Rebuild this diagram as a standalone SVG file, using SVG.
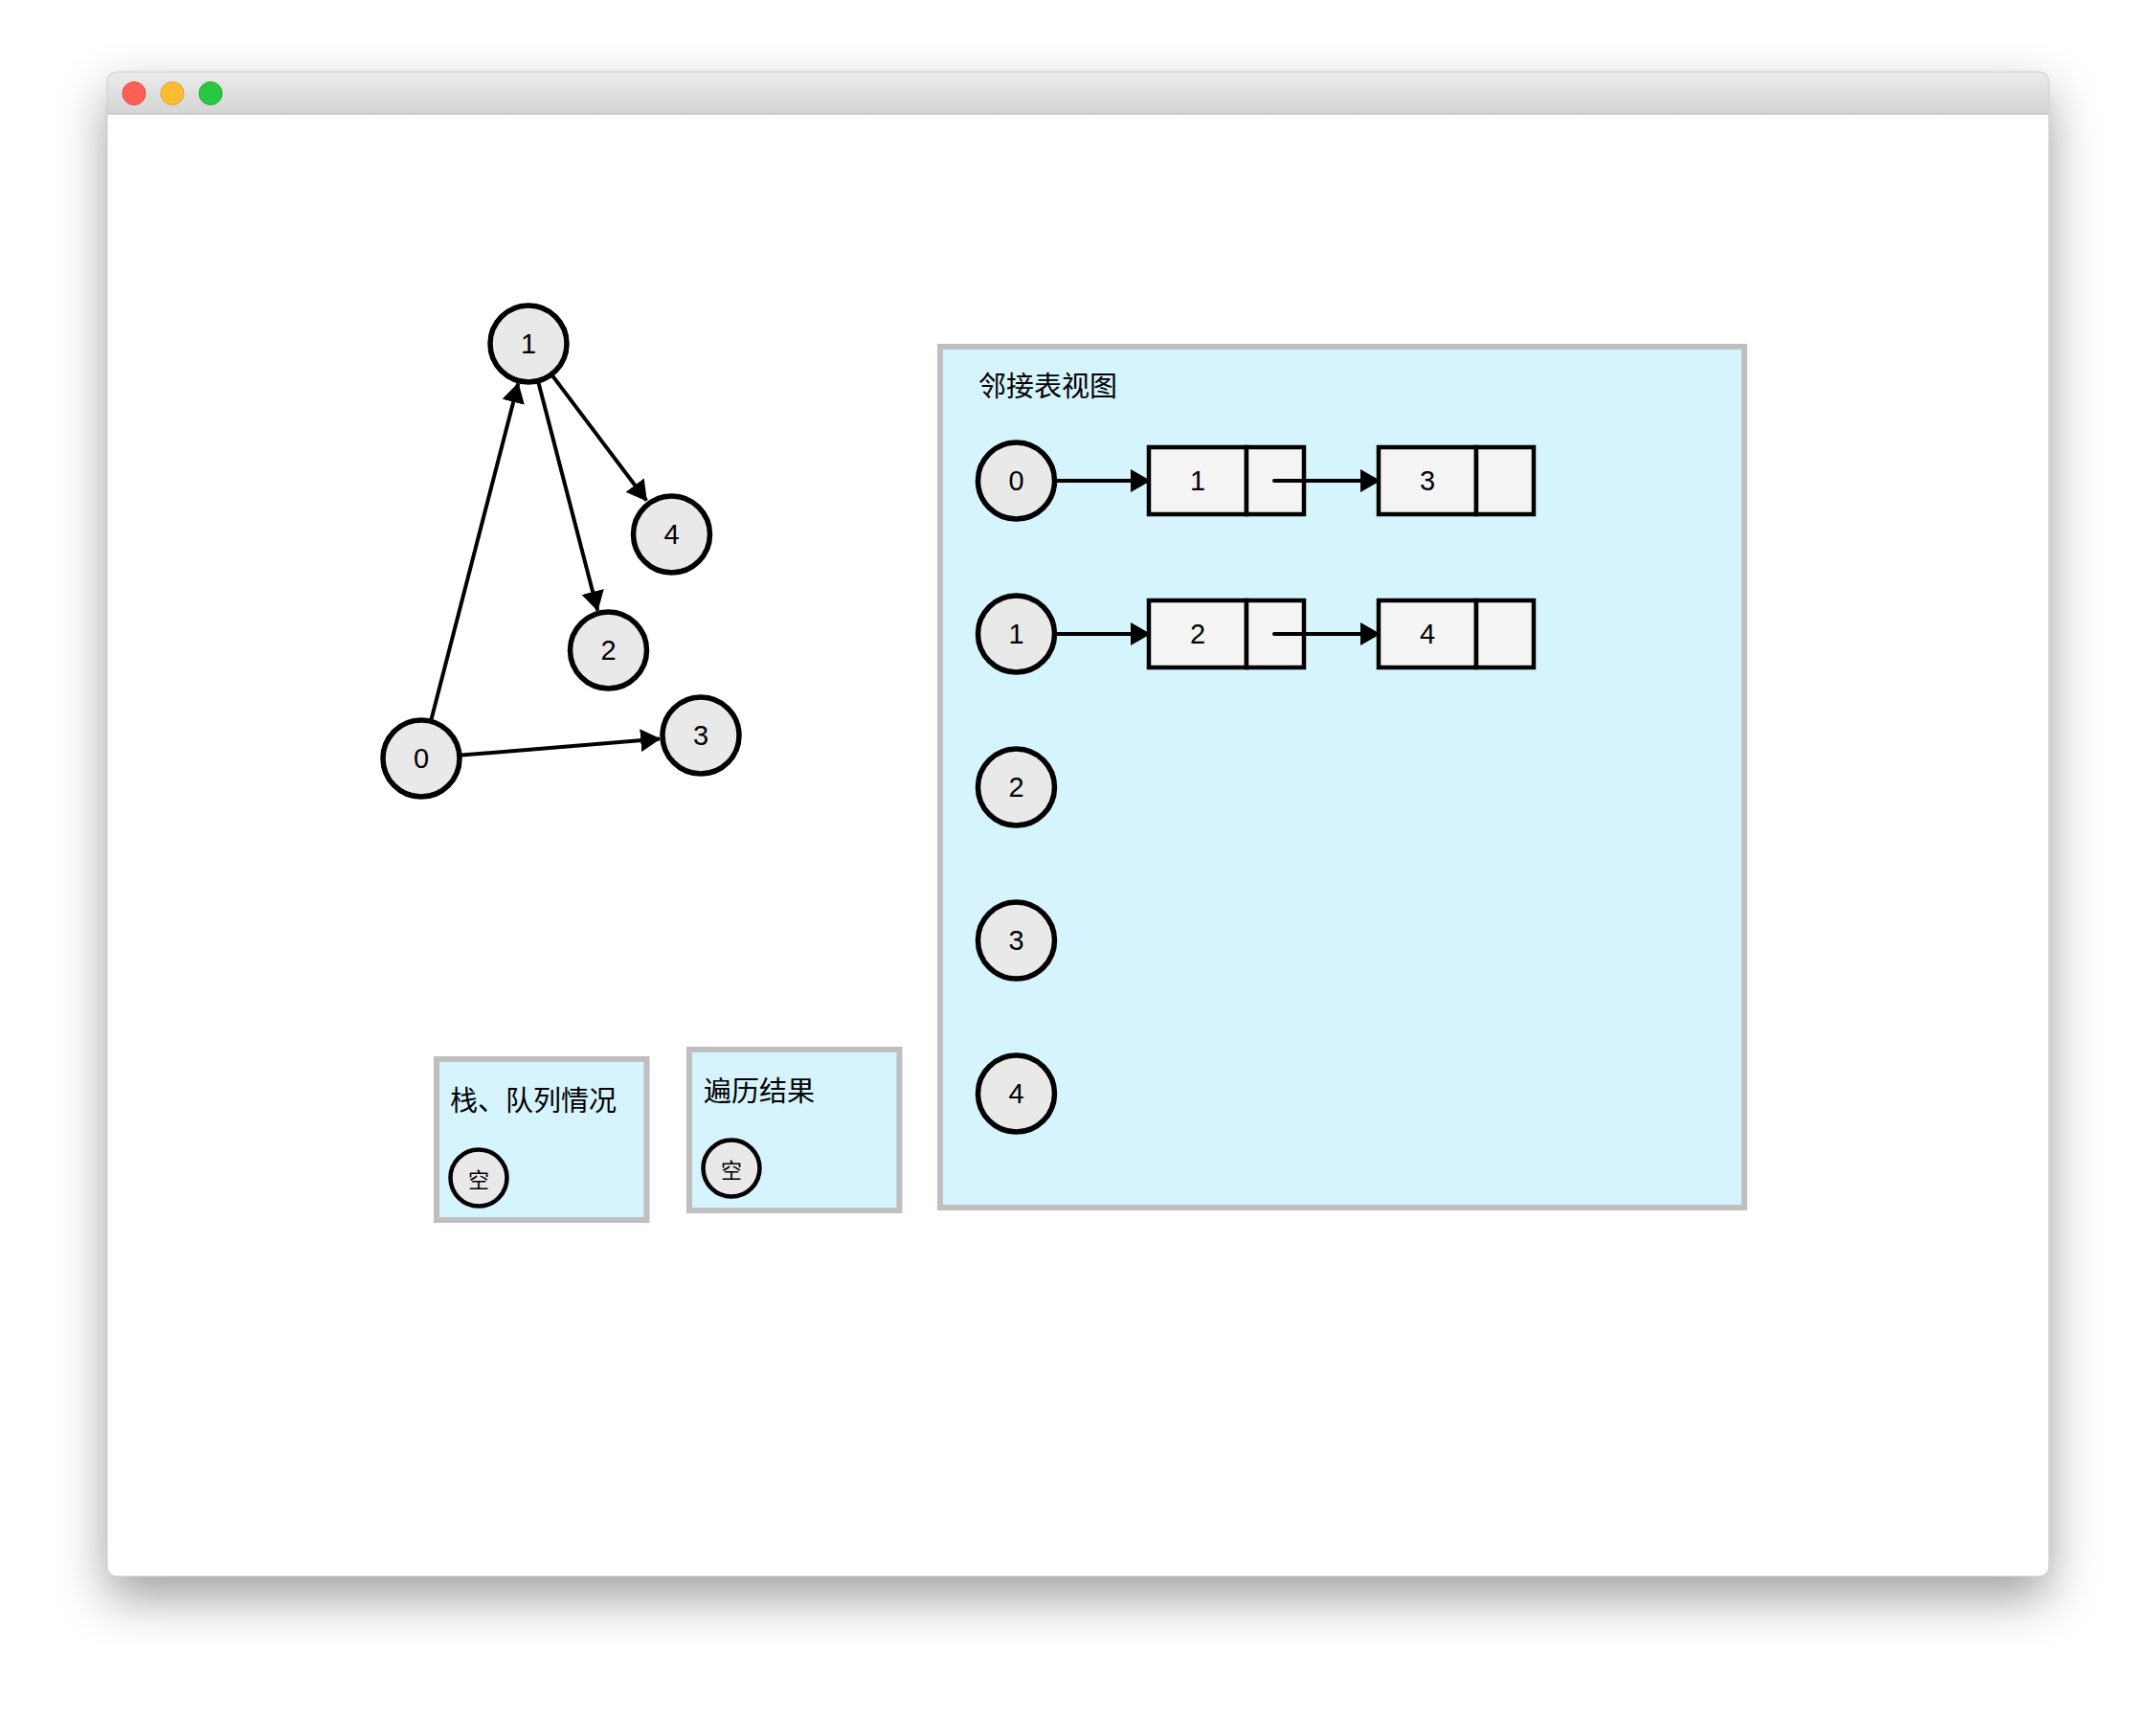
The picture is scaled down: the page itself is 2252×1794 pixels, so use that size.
<svg xmlns="http://www.w3.org/2000/svg" width="2252" height="1794" viewBox="0 0 2252 1794">
<defs>
<linearGradient id="tb" x1="0" y1="0" x2="0" y2="1">
<stop offset="0" stop-color="#ebebeb"/>
<stop offset="1" stop-color="#d4d4d4"/>
</linearGradient>
<filter id="sh" x="-10%" y="-10%" width="120%" height="125%">
<feDropShadow dx="0" dy="22" stdDeviation="26" flood-color="#000" flood-opacity="0.38"/>
</filter>
<marker id="arr" markerUnits="userSpaceOnUse" markerWidth="22" markerHeight="24" refX="20" refY="12" orient="auto">
<path d="M0,0 L21,12 L0,24 z" fill="#000"/>
</marker>
</defs>
<style>
.node circle{fill:#e9e9e9;stroke:#000;stroke-width:5.5}
.num{font-family:"Liberation Sans",Arial,sans-serif;font-size:29px;fill:#000;text-anchor:middle;dominant-baseline:central}
.cjk{font-family:"Noto Sans CJK SC","Liberation Sans",sans-serif;fill:#000}
.panel{fill:#d6f4fd;stroke:#bfbfbf;stroke-width:6}
.cell{fill:#f4f4f4;stroke:#000;stroke-width:4.5}
.edge{stroke:#000;stroke-width:4;fill:none;marker-end:url(#arr)}
.ptr{stroke:#000;stroke-width:4;fill:none;stroke-linecap:round}
</style>
<rect width="2252" height="1794" fill="#fff"/>
<g id="window">
<rect x="112" y="75" width="2028" height="1571" rx="10" fill="#fff" filter="url(#sh)"/>
<path d="M112,119 L112,85 Q112,75 122,75 L2130,75 Q2140,75 2140,85 L2140,119 Z" fill="url(#tb)"/>
<line x1="112" y1="119" x2="2140" y2="119" stroke="#c4c4c4" stroke-width="1.5"/>
<rect x="112" y="75" width="2028" height="1571" rx="10" fill="none" stroke="#cfcfcf" stroke-width="1"/>
<circle cx="140" cy="97.5" r="12" fill="#fe5f57" stroke="#e0443e" stroke-width="1"/>
<circle cx="180" cy="97.5" r="12" fill="#febc2e" stroke="#dea123" stroke-width="1"/>
<circle cx="220" cy="97.5" r="12" fill="#28c840" stroke="#1aab29" stroke-width="1"/>
</g>
<g id="panel-adj">
<rect class="panel" x="982" y="362" width="840" height="899"/>
<text class="cjk" x="1022" y="414" font-size="29">邻接表视图</text>
</g>
<g id="panel-stack">
<rect class="panel" x="456" y="1106" width="219.5" height="168"/>
<text class="cjk" x="470" y="1160" font-size="29">栈、队列情况</text>
</g>
<g id="panel-result">
<rect class="panel" x="720" y="1096" width="219.5" height="168"/>
<text class="cjk" x="735" y="1150" font-size="29">遍历结果</text>
</g>
<g id="g0" class="node"><circle cx="440" cy="792" r="40"/><text class="num" x="440" y="792">0</text></g>
<g id="g1" class="node"><circle cx="552" cy="359" r="40"/><text class="num" x="552" y="359">1</text></g>
<g id="g2" class="node"><circle cx="635.5" cy="679" r="40"/><text class="num" x="635.5" y="679">2</text></g>
<g id="g3" class="node"><circle cx="732" cy="768" r="40"/><text class="num" x="732" y="768">3</text></g>
<g id="g4" class="node"><circle cx="701.5" cy="558" r="40"/><text class="num" x="701.5" y="558">4</text></g>
<g id="l0" class="node"><circle cx="1061.5" cy="502" r="40"/><text class="num" x="1061.5" y="502">0</text></g>
<g id="l1" class="node"><circle cx="1061.5" cy="662" r="40"/><text class="num" x="1061.5" y="662">1</text></g>
<g id="l2" class="node"><circle cx="1061.5" cy="822" r="40"/><text class="num" x="1061.5" y="822">2</text></g>
<g id="l3" class="node"><circle cx="1061.5" cy="982" r="40"/><text class="num" x="1061.5" y="982">3</text></g>
<g id="l4" class="node"><circle cx="1061.5" cy="1142" r="40"/><text class="num" x="1061.5" y="1142">4</text></g>
<g id="c01">
<rect class="cell" x="1200" y="467" width="102" height="70"/>
<rect class="cell" x="1302" y="467" width="60" height="70"/>
<text class="num" x="1251" y="502">1</text>
</g>
<g id="c03">
<rect class="cell" x="1440" y="467" width="102" height="70"/>
<rect class="cell" x="1542" y="467" width="60" height="70"/>
<text class="num" x="1491" y="502">3</text>
</g>
<g id="c12">
<rect class="cell" x="1200" y="627" width="102" height="70"/>
<rect class="cell" x="1302" y="627" width="60" height="70"/>
<text class="num" x="1251" y="662">2</text>
</g>
<g id="c14">
<rect class="cell" x="1440" y="627" width="102" height="70"/>
<rect class="cell" x="1542" y="627" width="60" height="70"/>
<text class="num" x="1491" y="662">4</text>
</g>
<g id="stack-empty" class="node"><circle cx="500" cy="1230" r="29.5" style="stroke-width:4.5"/><text class="cjk" x="500" y="1230" font-size="22" text-anchor="middle" dominant-baseline="central">空</text></g>
<g id="result-empty" class="node"><circle cx="764" cy="1220" r="29.5" style="stroke-width:4.5"/><text class="cjk" x="764" y="1220" font-size="22" text-anchor="middle" dominant-baseline="central">空</text></g>
<g id="connectors">
<line class="edge" x1="450.5" y1="751.3" x2="541.2" y2="400.4"/>
<line class="edge" x1="562.5" y1="399.7" x2="624.2" y2="637.4"/>
<line class="edge" x1="577.3" y1="392.6" x2="675.2" y2="522.6"/>
<line class="edge" x1="481.9" y1="788.6" x2="689.1" y2="771.5"/>
<line class="edge" x1="1104" y1="502" x2="1201" y2="502"/>
<line class="ptr" x1="1331" y1="502" x2="1420" y2="502"/>
<line class="edge" x1="1410" y1="502" x2="1441" y2="502"/>
<line class="edge" x1="1104" y1="662" x2="1201" y2="662"/>
<line class="ptr" x1="1331" y1="662" x2="1420" y2="662"/>
<line class="edge" x1="1410" y1="662" x2="1441" y2="662"/>
</g>
</svg>
